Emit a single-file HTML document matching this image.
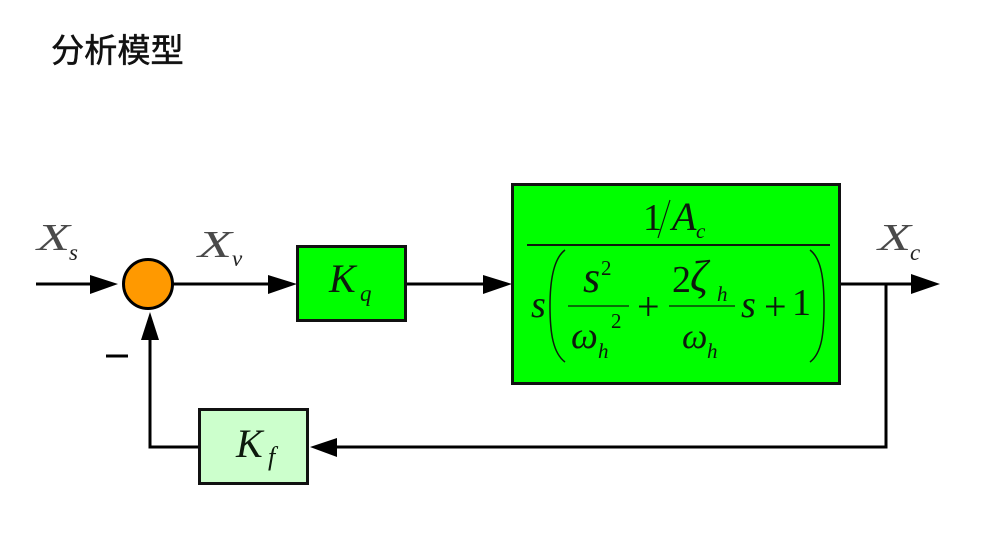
<!DOCTYPE html>
<html>
<head>
<meta charset="utf-8">
<style>
html,body{margin:0;padding:0;background:#fff;width:1003px;height:557px;overflow:hidden}
svg{display:block}
text{font-family:"Liberation Serif",serif;fill:#0d1a0d}
.i{font-style:italic}
.g{filter:blur(0.35px)}
</style>
</head>
<body>
<svg width="1003" height="557" viewBox="0 0 1003 557">
<text x="51" y="62" style="font-family:'Liberation Sans','Noto Sans CJK SC',sans-serif;font-size:33.200px;fill:#111;stroke:#111;stroke-width:0.500px">分析模型</text>

<g class="g">
<!-- lines -->
<g stroke="#000" stroke-width="3" fill="none">
<path d="M36 284H95"/>
<path d="M173 284H275"/>
<path d="M406 284H490"/>
<path d="M840 284H915"/>
<path d="M886 284V447H330"/>
<path d="M199 447H150V335"/>
<path d="M106 356H128"/>
</g>
<!-- arrowheads -->
<g fill="#000">
<path d="M90 275L118 284L90 294Z"/>
<path d="M268 275L297 284L268 294Z"/>
<path d="M483 275L512 284L483 294Z"/>
<path d="M911 274L940 284L911 294Z"/>
<path d="M310 447L337 438V457Z"/>
<path d="M150 312L141 340H159Z"/>
</g>

<!-- junction -->
<circle cx="148" cy="284" r="24.500" fill="#ff9900" stroke="#000" stroke-width="3"/>

<!-- boxes -->
<rect x="297.500" y="246.500" width="108" height="74" fill="#00ff00" stroke="#111" stroke-width="3"/>
<rect x="199.500" y="409.500" width="108" height="74" fill="#ccffcc" stroke="#111" stroke-width="3"/>
<rect x="512.500" y="184.500" width="327" height="199" fill="#00ff00" stroke="#111" stroke-width="3"/>

<!-- signal labels -->
<text class="i" x="37" y="250" font-size="38" textLength="33" lengthAdjust="spacingAndGlyphs" style="fill:#4a4a4a">X</text>
<text class="i" x="69" y="260" font-size="23" style="fill:#222">s</text>
<text class="i" x="198" y="257" font-size="38" textLength="34" lengthAdjust="spacingAndGlyphs" style="fill:#4a4a4a">X</text>
<text class="i" x="232" y="266" font-size="23" style="fill:#222">v</text>
<text class="i" x="878" y="250" font-size="38" textLength="33" lengthAdjust="spacingAndGlyphs" style="fill:#4a4a4a">X</text>
<text class="i" x="910" y="260" font-size="23" style="fill:#222">c</text>

<text class="i" x="329" y="292" font-size="40">K</text>
<text class="i" x="360" y="301" font-size="23">q</text>
<text class="i" x="236" y="457" font-size="40">K</text>
<text class="i" x="268" y="465" font-size="26">f</text>

<!-- formula -->
<text x="643" y="230" font-size="38">1</text>
<path d="M670 200L658 238" stroke="#0d1a0d" stroke-width="1.200" fill="none"/>
<text class="i" x="672" y="230" font-size="40">A</text>
<text class="i" x="696" y="238" font-size="21">c</text>
<path d="M527 245H830" stroke="#0d1a0d" stroke-width="2" fill="none"/>

<text class="i" x="531" y="317" font-size="38">s</text>
<path d="M565 250C553 259 550 282 550 306C550 333 553 353 565 362" stroke="#0d1a0d" stroke-width="1.500" fill="none"/>
<path d="M810 250C822 259 824 282 824 306C824 333 822 353 810 362" stroke="#0d1a0d" stroke-width="1.500" fill="none"/>

<text class="i" x="583" y="292" font-size="44">s</text>
<text x="601" y="275" font-size="21">2</text>
<path d="M568 306H629" stroke="#0d1a0d" stroke-width="1.200" fill="none"/>
<text class="i" x="571" y="348" font-size="38">ω</text>
<text class="i" x="598" y="358" font-size="21">h</text>
<text x="611" y="328" font-size="21">2</text>

<text x="637" y="320" font-size="40">+</text>

<text x="672" y="292" font-size="38">2</text>
<text class="i" x="690" y="291" font-size="44">ζ</text>
<text class="i" x="717" y="301" font-size="21">h</text>
<path d="M669 306H735" stroke="#0d1a0d" stroke-width="1.200" fill="none"/>
<text class="i" x="682" y="348" font-size="36">ω</text>
<text class="i" x="707" y="358" font-size="21">h</text>

<text class="i" x="741" y="317" font-size="38">s</text>
<text x="764" y="320" font-size="40">+</text>
<text x="792" y="315" font-size="38">1</text>
</g>
</svg>
</body>
</html>
